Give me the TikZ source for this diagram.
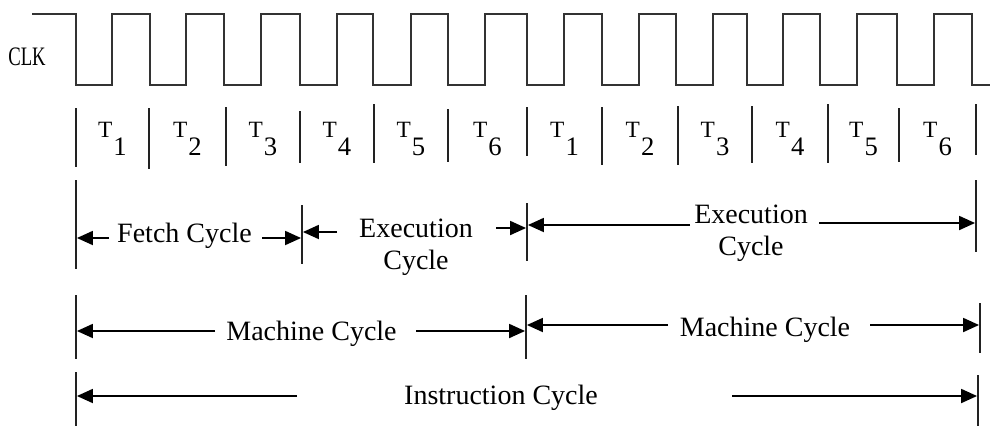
\documentclass[tikz,border=0pt]{standalone}
\usepackage{fontspec}
\setmainfont{Liberation Serif}
\usetikzlibrary{arrows.meta}
\definecolor{wave}{RGB}{51,51,51}
\definecolor{rule}{RGB}{34,34,34}
% A T-state label: T with a larger, lowered index.
\newcommand{\tslot}[1]{{\fontsize{17.5}{17.5}\selectfont T}\kern0.8pt\raisebox{-13.5pt}{\fontsize{20}{20}\selectfont #1}}

\begin{document}
\begin{tikzpicture}[
  x=0.75pt,y=-0.75pt,
  clkline/.style={draw=wave,line width=1.5pt},
  divider/.style={draw=rule,line width=1.4pt},
  span/.style={draw=black,line width=1.4pt,-{Triangle[length=12pt,width=10.5pt]},shorten >=0.7pt},
  cyc/.style={font=\fontsize{21}{23.5}\selectfont,inner sep=0pt,align=center},
  slot/.style={inner sep=0pt,anchor=base}
]
\useasboundingbox (0,0) rectangle (992,426);

% Clock waveform: 13 periods, starting high.
\node[inner sep=0pt,anchor=base,xscale=0.7,font=\fontsize{20}{20}\selectfont] (clk) at (27,65) {CLK};
\draw[clkline] (32,14) -| (76,85) -| (112,14) -| (150,85) -| (186,14) -| (224,85) -| (261,14)
  -| (300,85) -| (337,14) -| (373,85) -| (411,14) -| (448,85) -| (485,14) -| (527,85)
  -| (564,14) -| (602,85) -| (639,14) -| (676,85) -| (713,14) -| (747,85) -| (783,14)
  -| (820,85) -| (857,14) -| (897,85) -| (934,14) -| (972,85) -- (990,85);

% T-states of two instructions.
\draw[divider] (76,108) -- (76,167) (149,108) -- (149,169) (226,107) -- (226,166)
  (300,111) -- (300,163) (374,104) -- (374,163) (448,109) -- (448,162)
  (527,107) -- (527,156) (602,107) -- (602,165) (678,106) -- (678,165)
  (752,106) -- (752,163) (828,104) -- (828,163) (899,108) -- (899,162)
  (976,104) -- (976,155);
\node[slot] (s1)  at (112.5,137) {\tslot{1}};
\node[slot] (s2)  at (187.5,137) {\tslot{2}};
\node[slot] (s3)  at (263,137)   {\tslot{3}};
\node[slot] (s4)  at (337,137)   {\tslot{4}};
\node[slot] (s5)  at (411,137)   {\tslot{5}};
\node[slot] (s6)  at (487.5,137) {\tslot{6}};
\node[slot] (s7)  at (564.5,137) {\tslot{1}};
\node[slot] (s8)  at (640,137)   {\tslot{2}};
\node[slot] (s9)  at (715,137)   {\tslot{3}};
\node[slot] (s10) at (790,137)   {\tslot{4}};
\node[slot] (s11) at (863.5,137) {\tslot{5}};
\node[slot] (s12) at (937.5,137) {\tslot{6}};

% Cycle boundaries (tops of the bars).
\coordinate (a0) at (76,180);  \coordinate (a1) at (302,205);
\coordinate (a2) at (527,203); \coordinate (a3) at (976,180);
\coordinate (b0) at (76,295);  \coordinate (b1) at (526,295);
\coordinate (b2) at (980,303);
\coordinate (c0) at (76,372);  \coordinate (c1) at (978,375);
\draw[divider] (a0) -- ++(0,89) (a1) -- ++(0,59) (a2) -- ++(0,58) (a3) -- ++(0,72);
\draw[divider] (b0) -- ++(0,64) (b1) -- ++(0,64) (b2) -- ++(0,50);
\draw[divider] (c0) -- ++(0,54) (c1) -- ++(0,51);

\node[cyc,anchor=base]  (fetch) at (184.5,242) {Fetch Cycle};
\node[cyc,anchor=north] (exec1) at (416,219)   {Execution\\Cycle};
\node[cyc,anchor=north] (exec2) at (751,205)   {Execution\\Cycle};
\node[cyc,anchor=base]  (mach1) at (311.5,340) {Machine Cycle};
\node[cyc,anchor=base]  (mach2) at (765,336)   {Machine Cycle};
\node[cyc,anchor=base]  (instr) at (501,404)   {Instruction Cycle};

% Tails of the span arrows; each head ends on a boundary bar.
\coordinate (fl) at (109,238);  \coordinate (fr) at (262,238);
\coordinate (e1l) at (337,232); \coordinate (e1r) at (496,228);
\coordinate (e2l) at (690,225); \coordinate (e2r) at (819,223);
\coordinate (m1l) at (215,331); \coordinate (m1r) at (416,331);
\coordinate (m2l) at (668,325); \coordinate (m2r) at (870,325);
\coordinate (il) at (297,396);  \coordinate (ir) at (732,396);
\draw[span] (fl) -- (a0 |- fl);
\draw[span] (fr) -- (a1 |- fr);
\draw[span] (e1l) -- (a1 |- e1l);
\draw[span] (e1r) -- (a2 |- e1r);
\draw[span] (e2l) -- (a2 |- e2l);
\draw[span] (e2r) -- (a3 |- e2r);
\draw[span] (m1l) -- (b0 |- m1l);
\draw[span] (m1r) -- (b1 |- m1r);
\draw[span] (m2l) -- (b1 |- m2l);
\draw[span] (m2r) -- (b2 |- m2r);
\draw[span] (il) -- (c0 |- il);
\draw[span] (ir) -- (c1 |- ir);
\end{tikzpicture}
\end{document}
